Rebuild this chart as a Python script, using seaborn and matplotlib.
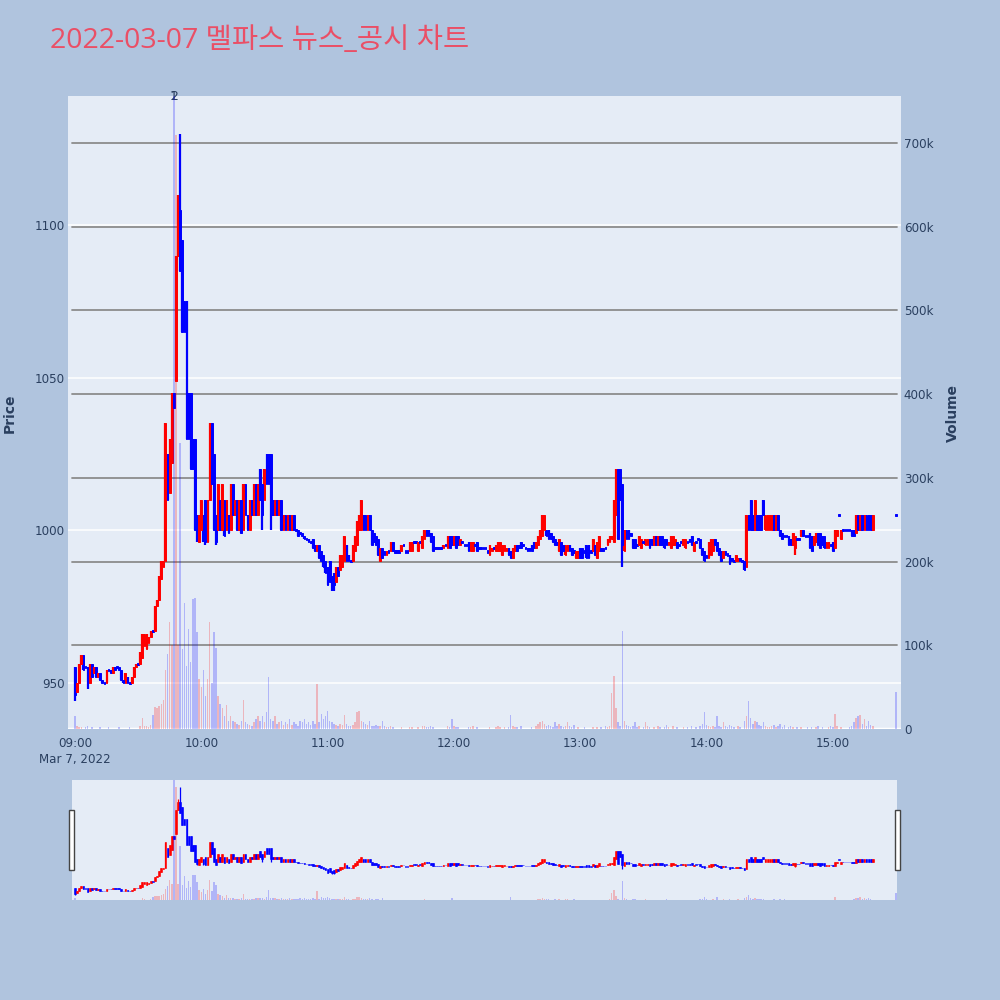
import numpy as np
import pandas as pd
import matplotlib
matplotlib.use("Agg")
import matplotlib.pyplot as plt
import matplotlib.transforms as mtransforms
from matplotlib.patches import Rectangle
import seaborn as sns

# one-minute bars, 09:00-15:19 plus the 15:30 closing print
times = list(pd.date_range("2022-03-07 09:00", "2022-03-07 15:19", freq="min")) + [pd.Timestamp("2022-03-07 15:30")]

opens = [
    955, 947, 950, 956, 959, 955, 955, 950, 956, 953,
    955, 952, 953, 951, 950, 950, 954, 954, 953, 955,
    955, 955, 954, 951, 950, 952, 950, 950, 952, 955,
    956, 956, 958, 962, 961, 963, 965, 967, 967, 975,
    977, 984, 988, 990, 1025, 1012, 1022, 1045, 1049, 1090,
    1105, 1095, 1075, 1075, 1045, 1045, 1030, 1030, 1005, 996,
    1000, 1005, 1010, 996, 1010, 1035, 1025, 1005, 1000, 1010,
    1000, 1010, 1000, 1005, 1000, 1015, 1005, 1010, 1000, 1010,
    1000, 1015, 1005, 1000, 1010, 1005, 1015, 1005, 1020, 1015,
    1010, 1025, 1025, 1025, 1010, 1005, 1010, 1005, 1010, 1000,
    1005, 1000, 1005, 1000, 1005, 1000, 1000, 999, 999, 998,
    997, 997, 996, 997, 995, 993, 995, 993, 992, 990,
    988, 990, 985, 986, 983, 988, 987, 988, 990, 995,
    992, 990, 990, 993, 995, 1000, 1000, 1005, 1005, 1000,
    1005, 1000, 999, 998, 997, 990, 994, 993, 992, 993,
    993, 996, 993, 993, 993, 993, 995, 993, 993, 993,
    993, 996, 996, 993, 996, 994, 997, 1000, 1000, 999,
    998, 994, 994, 994, 994, 994, 995, 994, 998, 998,
    995, 998, 998, 995, 996, 995, 995, 996, 993, 993,
    995, 996, 994, 994, 994, 994, 993, 992, 993, 994,
    993, 993, 993, 992, 993, 993, 994, 993, 991, 993,
    995, 995, 996, 995, 994, 994, 994, 995, 996, 994,
    995, 997, 998, 1000, 1000, 1000, 999, 998, 997, 996,
    993, 996, 995, 992, 993, 995, 994, 993, 991, 991,
    994, 994, 993, 995, 995, 993, 993, 995, 991, 993,
    994, 994, 994, 995, 996, 997, 996, 1005, 1020, 1020,
    1015, 993, 1000, 1000, 999, 997, 997, 995, 995, 994,
    996, 995, 995, 997, 997, 995, 998, 995, 998, 998,
    997, 997, 995, 994, 995, 995, 996, 995, 996, 995,
    994, 996, 997, 998, 993, 996, 997, 997, 994, 993,
    992, 991, 992, 993, 997, 996, 994, 993, 991, 993,
    992, 992, 991, 990, 990, 990, 991, 990, 990, 988,
    1005, 1010, 1005, 1000, 1005, 1005, 1005, 1010, 1000, 1000,
    1000, 1000, 1005, 1000, 1005, 1000, 999, 998, 998, 998,
    997, 995, 994, 997, 997, 998, 1000, 998, 998, 999,
    998, 995, 996, 999, 999, 998, 998, 994, 994, 995,
    996, 994, 998, 1005, 997, 1000, 1000, 1000, 1000, 1000,
    1000, 999, 1005, 1000, 1005, 1000, 1005, 1005, 1005, 1000,
    1005,
]

closes = [
    946, 950, 956, 959, 954, 955, 949, 956, 952, 955,
    952, 953, 951, 950, 950, 954, 954, 953, 955, 954,
    955, 954, 951, 950, 953, 950, 950, 952, 955, 956,
    956, 960, 966, 966, 966, 965, 967, 967, 975, 977,
    985, 990, 990, 1035, 1010, 1030, 1045, 1040, 1090, 1105,
    1085, 1065, 1065, 1030, 1030, 1020, 1020, 1000, 997, 1005,
    1010, 997, 996, 1010, 1035, 1015, 1000, 996, 1015, 1000,
    1015, 998, 1010, 999, 1015, 1005, 1010, 1000, 1010, 999,
    1015, 1005, 1000, 1010, 1005, 1015, 1005, 1015, 1010, 1005,
    1020, 1015, 1015, 1005, 1005, 1010, 1005, 1010, 1000, 1005,
    1000, 1005, 1000, 1005, 1000, 1000, 998, 999, 998, 997,
    997, 996, 996, 994, 993, 995, 991, 990, 988, 986,
    982, 983, 982, 982, 988, 985, 992, 992, 998, 990,
    990, 990, 995, 998, 1003, 1005, 1010, 1000, 1000, 1005,
    1000, 995, 996, 995, 992, 994, 991, 992, 993, 993,
    996, 993, 993, 993, 993, 995, 995, 993, 993, 996,
    996, 996, 996, 996, 996, 998, 1000, 998, 998, 996,
    993, 994, 994, 994, 994, 995, 995, 998, 994, 995,
    998, 994, 995, 997, 996, 995, 995, 993, 996, 996,
    995, 993, 994, 994, 994, 994, 993, 995, 994, 994,
    995, 996, 996, 995, 995, 994, 992, 991, 994, 995,
    993, 994, 994, 995, 994, 993, 993, 993, 994, 996,
    998, 1000, 1005, 1005, 998, 997, 997, 996, 995, 995,
    997, 992, 993, 995, 995, 993, 992, 993, 993, 993,
    991, 991, 993, 991, 991, 993, 997, 992, 996, 998,
    993, 993, 994, 997, 998, 998, 1010, 1020, 997, 1010,
    995, 1000, 997, 997, 998, 994, 994, 995, 998, 997,
    996, 997, 997, 994, 995, 998, 995, 998, 995, 995,
    994, 995, 996, 998, 998, 997, 994, 995, 996, 997,
    997, 996, 996, 995, 996, 996, 997, 994, 992, 990,
    991, 996, 997, 997, 995, 993, 992, 990, 993, 992,
    992, 989, 990, 990, 992, 991, 990, 990, 987, 1005,
    1000, 1000, 1000, 1010, 1000, 1000, 1000, 1005, 1005, 1005,
    1005, 1005, 1000, 1005, 1000, 998, 997, 998, 998, 995,
    995, 999, 998, 997, 997, 1000, 998, 998, 998, 994,
    993, 998, 999, 995, 994, 995, 994, 996, 996, 995,
    993, 1000, 1000, 1005, 1000, 1000, 1000, 1000, 1000, 998,
    998, 1005, 1000, 1005, 1000, 1005, 1000, 1000, 1000, 1005,
    1005,
]

# wick extremes where they stick out of the body: row -> (low, high)
wicks = {
    0: (944, 955), 3: (956, 959), 6: (948, 955), 49: (1090, 1110), 50: (1085, 1130),
    58: (996, 1005), 61: (996, 1005), 62: (995, 1010), 67: (995, 1005),
    89: (1000, 1015), 93: (1000, 1025), 122: (980, 985), 123: (980, 986),
    260: (988, 1015), 321: (1000, 1010), 342: (992, 998),
}

# traded volume, thousands of shares
volume_k = [
    15, 3, 2, 2, 0, 2, 3, 0, 2, 0,
    0, 0, 2, 0, 0, 0, 2, 0, 0, 0,
    0, 2, 0, 0, 0, 0, 2, 0, 0, 0,
    0, 3, 13, 4, 3, 2, 5, 17, 26, 25,
    28, 30, 35, 70, 90, 128, 100, 850, 710, 100,
    342, 95, 150, 75, 120, 80, 155, 156, 116, 60,
    50, 70, 40, 60, 128, 55, 116, 97, 40, 30,
    25, 15, 29, 10, 15, 10, 8, 6, 5, 10,
    35, 8, 6, 5, 4, 8, 12, 15, 10, 15,
    8, 20, 62, 12, 10, 15, 6, 8, 10, 5,
    8, 6, 12, 5, 8, 6, 4, 10, 8, 12,
    6, 8, 5, 10, 6, 54, 8, 18, 12, 15,
    22, 10, 8, 6, 5, 4, 6, 5, 17, 6,
    4, 3, 5, 8, 20, 21, 10, 8, 6, 5,
    10, 4, 3, 5, 4, 3, 10, 3, 2, 2,
    3, 2, 0, 0, 0, 2, 0, 0, 0, 2,
    2, 0, 0, 2, 0, 3, 4, 2, 2, 3,
    2, 0, 0, 0, 0, 0, 0, 3, 2, 12,
    3, 2, 2, 0, 0, 0, 0, 2, 2, 3,
    0, 2, 0, 0, 0, 0, 0, 2, 0, 0,
    2, 3, 2, 0, 2, 0, 2, 17, 3, 2,
    2, 0, 3, 0, 0, 0, 0, 2, 0, 3,
    6, 8, 10, 6, 4, 5, 3, 2, 8, 3,
    6, 3, 2, 4, 8, 3, 2, 5, 0, 2,
    0, 0, 2, 0, 0, 0, 2, 0, 2, 0,
    2, 0, 3, 2, 4, 43, 63, 25, 8, 3,
    117, 10, 5, 3, 2, 4, 8, 2, 3, 0,
    2, 8, 3, 2, 0, 2, 0, 3, 2, 0,
    2, 5, 2, 0, 3, 0, 2, 0, 0, 2,
    0, 2, 0, 3, 0, 2, 0, 4, 6, 20,
    5, 3, 2, 4, 2, 16, 3, 2, 8, 3,
    2, 5, 3, 2, 0, 4, 2, 0, 10, 16,
    33, 13, 6, 10, 8, 5, 4, 8, 3, 2,
    2, 3, 5, 2, 3, 6, 2, 5, 0, 2,
    3, 2, 0, 2, 0, 2, 0, 0, 2, 0,
    2, 0, 2, 3, 0, 2, 0, 0, 2, 3,
    2, 18, 3, 0, 2, 0, 0, 0, 2, 3,
    8, 13, 15, 17, 6, 12, 4, 10, 5, 3,
    44,
]

news_marks = ["1", "2"]
news_time = pd.Timestamp("2022-03-07 09:47")
price_ticks = [950, 1000, 1050, 1100]
volume_ticks = [0, 100, 200, 300, 400, 500, 600, 700]
hour_labels = ["09:00", "10:00", "11:00", "12:00", "13:00", "14:00", "15:00"]

RED, BLUE = "#ff0000", "#0000ff"
PLOT_BG, PAPER_BG, TXT = "#e5ecf6", "#b0c4de", "#2a3f5f"

sns.set_theme(style="white")
plt.rcParams["font.family"] = ["DejaVu Sans", "Noto Sans CJK KR"]

df = pd.DataFrame({"time": times, "open": opens, "close": closes,
                   "volume": np.array(volume_k) * 1000})
t0 = df["time"].iloc[0]
df["minute"] = (df["time"] - t0).dt.total_seconds() / 60
df["high"] = df[["open", "close"]].max(axis=1)
df["low"] = df[["open", "close"]].min(axis=1)
for i, (lo, hi) in wicks.items():
    df.loc[i, "low"] = min(lo, df.loc[i, "low"])
    df.loc[i, "high"] = max(hi, df.loc[i, "high"])
df["direction"] = np.where(df["close"] > df["open"], "up", "down")


def draw_candles(ax, wick_lw, edge_lw):
    colors = np.where(df["direction"] == "up", RED, BLUE)
    ax.vlines(df["minute"], df["low"], df["high"], colors=colors, lw=wick_lw, zorder=3)
    height = (df["close"] - df["open"]).abs().clip(lower=0.7)
    mid = (df["close"] + df["open"]) / 2
    ax.bar(df["minute"], height, 0.8, bottom=mid - height / 2, color=colors,
           edgecolor=colors, linewidth=edge_lw, zorder=3)


def draw_volume(ax):
    sns.barplot(data=df, x="minute", y="volume", hue="direction",
                palette={"up": RED, "down": BLUE}, native_scale=True, dodge=False,
                width=0.7, errorbar=None, legend=False, saturation=1, alpha=0.23,
                linewidth=0, ax=ax)
    ax.set_xlabel("")
    ax.set_ylabel("")


def clean(ax):
    for s in ax.spines.values():
        s.set_visible(False)


fig = plt.figure(figsize=(10, 10), dpi=100)
fig.patch.set_facecolor(PAPER_BG)

main_rect = [0.068, 0.271, 0.833, 0.633]
xlim_main = (-3.3, 392.4)
price_lim = (934.8, 1142.3)
vol_lim = (0, 756000)

# bottom layer: background, volume grid and right-hand axis
axg = fig.add_axes(main_rect)
axg.set_facecolor(PLOT_BG)
axg.set_xlim(xlim_main)
axg.set_ylim(vol_lim)
for v in volume_ticks[1:]:
    axg.axhline(v * 1000, xmin=0.005, xmax=0.995, color="#8c8c8c", lw=1.3, zorder=1)
axg.axhline(0, color="white", lw=2.5, zorder=1)
axg.yaxis.tick_right()
axg.set_yticks([v * 1000 for v in volume_ticks])
axg.set_yticklabels(["0"] + [f"{v}k" for v in volume_ticks[1:]])
axg.tick_params(axis="y", length=0, pad=2, labelsize=8.6, labelcolor=TXT)
axg.set_xticks([])
axg.grid(False)
clean(axg)

# middle layer: price candles
ax = fig.add_axes(main_rect)
ax.patch.set_visible(False)
ax.set_ylim(price_lim)
ax.set_axisbelow(True)
ax.set_yticks(price_ticks)
ax.grid(True, axis="y", color="white", lw=1.1)
draw_candles(ax, wick_lw=1.6, edge_lw=0.7)
ax.set_xlim(xlim_main)
ax.set_xticks(np.arange(len(hour_labels)) * 60)
ax.set_xticklabels([hour_labels[0] + "\nMar 7, 2022"] + hour_labels[1:], linespacing=1.3)
ax.tick_params(axis="both", length=0, labelsize=8.6, labelcolor=TXT)
ax.tick_params(axis="y", pad=2)
ax.tick_params(axis="x", pad=6)
clean(ax)
news_x = (news_time - t0).total_seconds() / 60
trans = mtransforms.blended_transform_factory(ax.transData, ax.transAxes)
for mark in news_marks:
    ax.text(news_x, 1.0, mark, transform=trans, ha="center", va="center",
            fontsize=9, color=TXT, zorder=6)

# top layer: volume bars
axv = fig.add_axes(main_rect)
axv.patch.set_visible(False)
draw_volume(axv)
axv.set_ylim(vol_lim)
axv.set_xlim(xlim_main)
axv.set_xticks([])
axv.set_yticks([])
axv.grid(False)
clean(axv)

fig.text(0.05, 0.959, "2022-03-07 멜파스 뉴스_공시 차트", ha="left", va="center",
         fontsize=20.5, color="#ea4f66", family=["Open Sans", "Noto Sans CJK KR"])
fig.text(0.010, 0.587, "Price", rotation=90, ha="center", va="center",
         fontsize=10, fontweight="bold", color=TXT)
fig.text(0.953, 0.587, "Volume", rotation=90, ha="center", va="center",
         fontsize=10, fontweight="bold", color=TXT)

# range slider
slider_rect = [0.072, 0.100, 0.825, 0.120]
xlim_slider = (-1.4, 390.5)
axs = fig.add_axes(slider_rect)
axs.set_facecolor(PLOT_BG)
draw_candles(axs, wick_lw=0.9, edge_lw=0.4)
axs.set_xlim(xlim_slider)
axs.set_ylim(price_lim)
axs.set_xticks([])
axs.set_yticks([])
axs.grid(False)
clean(axs)
axsv = fig.add_axes(slider_rect)
axsv.patch.set_visible(False)
draw_volume(axsv)
axsv.set_ylim(vol_lim)
axsv.set_xlim(xlim_slider)
axsv.set_xticks([])
axsv.set_yticks([])
axsv.grid(False)
clean(axsv)
for hx in (0.069, 0.895):
    fig.patches.append(Rectangle((hx, 0.130), 0.0045, 0.060, transform=fig.transFigure,
                                 facecolor="white", edgecolor="#444444", lw=1.0, zorder=5))

fig.savefig("out.png", dpi=100, facecolor=PAPER_BG)
